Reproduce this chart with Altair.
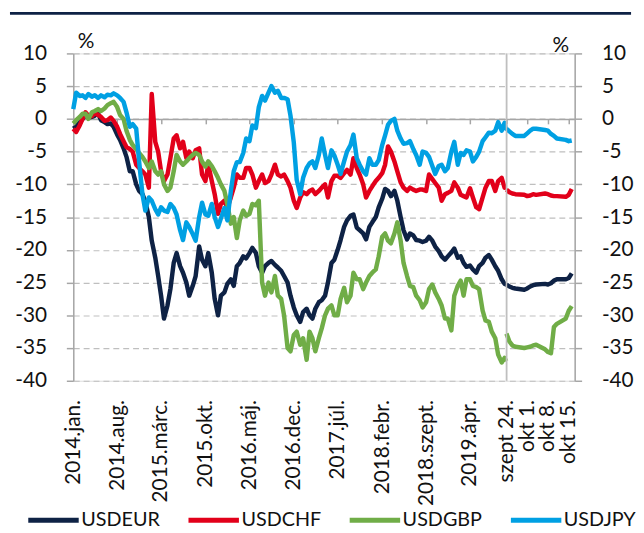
import altair as alt
import pandas as pd

# ---------------- data ----------------
series_names = ["USDEUR", "USDCHF", "USDGBP", "USDJPY"]
series_colors = ["#0E2245", "#E2001A", "#70AD47", "#00A0E3"]

# long period: semi-monthly readings (1st and 15th), Jan 2014 - mid Sep 2019, plus 23 Sep 2019
left_dates = list(pd.date_range("2014-01-01", "2019-09-15", freq="SMS")) + [pd.Timestamp("2019-09-23")]

eur_left = [-1.5, -1.2, -0.5, 0.0, 0.6, 0.2, 0.3, 0.5, 0.8, -0.2,
            -0.5, -0.8, -0.7, -1.2, -2.4, -3.2, -4.5, -5.8, -8.0, -8.0,
            -10.0, -11.0, -11.5, -12.6, -15.0, -18.6, -21.2, -24.0, -27.0, -30.5,
            -28.5, -26.0, -22.0, -20.5, -22.5, -23.5, -25.0, -27.0, -25.5, -24.0,
            -19.5, -21.5, -22.5, -20.5, -23.5, -27.5, -30.0, -27.0, -26.5, -25.2,
            -24.5, -25.5, -22.5, -22.0, -21.0, -21.3, -20.5, -19.7, -20.5, -22.5,
            -23.5, -22.5, -22.0, -21.7, -22.3, -22.7, -23.2, -24.0, -25.0, -27.0,
            -28.8, -30.0, -31.0, -29.5, -29.0, -30.0, -30.5, -29.0, -28.0, -27.7,
            -27.0, -25.0, -22.0, -21.5, -20.0, -18.5, -16.5, -15.5, -14.8, -14.6,
            -16.6, -17.0, -17.5, -18.4, -16.5, -15.8, -15.0, -13.5, -12.2, -10.7,
            -11.0, -11.8, -11.0, -12.5, -15.0, -17.0, -18.4, -17.5, -17.8, -18.5,
            -18.6, -18.8, -18.6, -18.0, -18.6, -19.5, -20.2, -21.0, -21.5, -21.0,
            -20.4, -19.8, -21.2, -21.0, -22.0, -22.6, -22.4, -23.0, -23.5, -22.5,
            -22.0, -21.2, -20.8, -21.5, -22.5, -23.2, -24.5, -25.2,
            -25.3]
chf_left = [-1.5, -2.0, -1.0, 0.0, 1.0, 0.5, 0.4, 0.9, 0.6, 0.3,
            -0.3, -0.2, 0.2, -0.3, -1.2, -2.3, -3.4, -4.3, -4.6, -5.0,
            -7.0, -7.5, -8.0, -8.5, -10.5, 3.8, -3.5, -5.0, -8.0, -9.5,
            -8.5, -6.0, -3.0, -2.5, -4.5, -3.5, -6.0, -5.0, -6.0, -4.8,
            -4.5, -8.5, -9.5, -7.0, -9.5, -11.5, -14.5, -13.0, -12.5, -13.6,
            -12.0, -10.5, -8.5, -9.0, -9.0, -7.5, -7.5, -8.5, -10.5, -9.5,
            -8.5, -9.8, -9.5, -8.5, -7.0, -8.5, -8.8, -8.5, -9.5, -10.5,
            -12.5, -13.6, -12.0, -11.2, -11.5, -11.0, -10.8, -11.5, -11.0, -10.5,
            -10.0, -12.0, -9.5, -8.7, -8.7, -9.0, -8.3, -7.8, -8.5, -6.0,
            -7.5, -8.5, -10.0, -12.0, -11.0, -10.3, -9.5, -9.0, -8.3, -7.0,
            -4.2, -5.0, -6.5, -8.0, -9.7, -10.5, -11.0, -10.5, -10.8, -11.0,
            -10.8, -10.8, -11.0, -8.5, -9.2, -9.8, -10.5, -12.5, -11.5, -11.3,
            -11.0, -9.7, -10.5, -11.6, -11.8, -12.0, -10.6, -12.0, -13.5, -13.8,
            -12.0, -10.5, -9.5, -9.5, -11.0, -9.5, -9.0, -10.5,
            -10.6]
gbp_left = [-0.7, -0.2, 0.3, 0.8, 0.8, 0.0, 1.0, 1.2, 1.5, 1.2,
            1.6, 2.1, 2.4, 2.6, 1.8, 0.6, 0.0, -1.8, -3.2, -4.0,
            -4.6, -5.2, -5.8, -6.5, -7.5, -6.5, -8.0, -8.5, -8.0, -10.0,
            -11.0, -10.5, -8.0, -5.5, -6.5, -7.0, -6.5, -6.0, -5.5, -5.2,
            -5.5, -6.5, -7.3, -6.5, -7.2, -8.0, -9.0, -10.0, -11.0, -13.0,
            -16.0, -15.0, -18.2, -15.5, -14.0, -14.8, -14.5, -13.0, -13.2, -12.5,
            -25.0, -27.0, -25.0, -26.5, -24.0, -27.0, -27.5, -30.0, -35.0, -35.5,
            -33.0, -32.5, -34.5, -33.5, -36.8, -32.5, -33.5, -35.5, -33.5, -32.0,
            -30.0, -29.0, -28.5, -30.0, -30.0, -27.5, -25.8, -28.0, -27.0, -23.5,
            -24.5, -24.5, -26.0, -25.0, -24.0, -23.5, -23.0, -21.0, -18.0, -17.5,
            -18.6, -19.0, -17.5, -15.8, -18.6, -22.0, -24.0, -25.5, -25.7, -27.0,
            -27.7, -28.8, -28.0, -26.0, -25.3, -26.5, -27.5, -28.5, -30.5, -30.5,
            -32.3, -27.0, -25.5, -24.7, -27.0, -24.5, -24.5, -25.5, -25.7, -26.0,
            -29.3, -30.8, -31.0, -32.5, -33.5, -36.0, -37.2, -36.5,
            -37.0]
jpy_left = [1.5, 4.0, 3.5, 3.6, 3.2, 3.8, 3.4, 3.6, 3.2, 3.6,
            3.3, 3.7, 3.6, 3.9, 3.6, 3.2, 2.6, 1.0, -1.2, -0.8,
            -1.5, -6.5, -11.5, -14.0, -12.0, -12.5, -13.8, -14.6, -13.5, -14.0,
            -14.2, -13.0, -13.6, -14.6, -17.0, -18.5, -15.8, -16.5, -17.6, -18.6,
            -15.0, -12.8, -14.6, -14.8, -13.0, -15.0, -16.5, -15.2, -13.6, -15.5,
            -11.0, -8.0, -6.6, -6.6, -5.2, -3.0, -3.4, -1.0, -1.4, 1.8,
            3.5, 2.8, 4.0, 5.0, 4.0, 4.3, 3.2, 3.2, 3.0, 0.5,
            -3.6, -9.3, -11.5, -9.0, -7.5, -6.8, -6.5, -7.5, -5.5, -3.0,
            -5.5, -7.5, -4.8, -5.6, -7.0, -8.4, -6.5, -5.0, -4.0, -2.4,
            -6.0, -7.0, -8.0, -8.5, -6.0, -7.0, -7.0, -6.3, -4.0, -2.5,
            -0.9, -0.3, 0.0, -1.8, -3.0, -3.8, -3.7, -3.4, -4.6, -5.5,
            -7.0, -5.0, -5.2, -5.8, -7.2, -8.4, -7.2, -7.0, -8.0, -7.5,
            -5.0, -3.5, -7.0, -5.2, -5.5, -4.8, -5.0, -6.5, -5.8, -5.0,
            -3.4, -2.8, -2.1, -2.2, -1.8, -0.5, -1.8, -0.6,
            -1.7]

# last weeks: daily readings, 24 Sep - 16 Oct 2019
right_dates = list(pd.bdate_range("2019-09-24", "2019-10-16"))
eur_right = [-25.3, -25.6, -25.8, -25.9, -26.1, -25.9, -25.6, -25.4, -25.3,
             -25.2, -25.3, -25.1, -24.7, -24.5, -24.5, -24.3, -23.6]
chf_right = [-10.8, -11.2, -11.4, -11.5, -11.6, -11.8, -11.7, -11.5, -11.6,
             -11.4, -11.5, -11.7, -11.8, -11.8, -11.9, -11.6, -10.7]
gbp_right = [-32.8, -34.0, -34.6, -34.8, -35.0, -34.9, -34.8, -34.6, -34.5,
             -35.2, -35.6, -35.8, -31.8, -31.3, -30.5, -29.3, -28.6]
jpy_right = [-1.5, -1.9, -2.3, -2.6, -2.6, -2.2, -1.8, -1.5, -1.5,
             -1.7, -1.8, -2.3, -2.6, -3.0, -3.2, -3.4, -3.3]

y_ticks = [-40, -35, -30, -25, -20, -15, -10, -5, 0, 5, 10]
hu_months = ["jan", "febr", "márc", "ápr", "máj", "jún", "júl", "aug", "szept", "okt", "nov", "dec"]
left_tick_dates = [(2014, 1, 1), (2014, 8, 1), (2015, 3, 1), (2015, 10, 1), (2016, 5, 1),
                   (2016, 12, 1), (2017, 7, 1), (2018, 2, 1), (2018, 9, 1), (2019, 4, 1)]
right_tick_dates = [(2019, 9, 24), (2019, 10, 1), (2019, 10, 8), (2019, 10, 15)]


def build(dates, cols):
    rows = []
    for name, vals in zip(series_names, cols):
        assert len(vals) == len(dates), (name, len(vals), len(dates))
        for d, v in zip(dates, vals):
            rows.append({"date": d, "series": name, "value": v})
    return pd.DataFrame(rows)


left_df = build(left_dates, [eur_left, chf_left, gbp_left, jpy_left])
right_df = build(right_dates, [eur_right, chf_right, gbp_right, jpy_right])

# ---------------- style ----------------
FONT = "Lato"
FS = 21
TXT = "#111111"
AX = "#A6A6A6"
GRID = "#BFBFBF"
NAVY = "#0E2245"
PLOT_H = 331
LW = 4.5
ZERO_FROM_BOTTOM = PLOT_H * 40 / 50  # y=0 line distance from the bottom edge

months_js = "[" + ",".join("'%s'" % m for m in hu_months) + "]"
left_label_expr = "year(datum.value) + '.' + %s[month(datum.value)] + '.'" % months_js
right_label_expr = "%s[month(datum.value)] + ' ' + date(datum.value) + '.'" % months_js


def dt(t):
    return alt.DateTime(year=t[0], month=t[1], date=t[2])


def x_axis(ticks, expr):
    return alt.Axis(values=[dt(t) for t in ticks], labelExpr=expr, labelAngle=270,
                    labelAlign="right", labelBaseline="middle", offset=-ZERO_FROM_BOTTOM,
                    tickSize=5, labelPadding=ZERO_FROM_BOTTOM + 14, domainColor=AX, domainWidth=1.5,
                    tickColor=AX, tickWidth=1.5, grid=False, title=None, labelOverlap=False,
                    labelFlush=False, labelBound=False, labelFont=FONT, labelFontSize=FS,
                    labelColor=TXT)


def y_axis(orient):
    left = orient == "left"
    return alt.Axis(orient=orient, values=y_ticks, labelExpr="'' + datum.value", tickSize=7,
                    labelPadding=20, domainColor=AX, domainWidth=1.5, tickColor=AX, tickWidth=1.5,
                    grid=True, gridColor=GRID, gridDash=[6, 4], gridWidth=1.2,
                    title="%", titleAngle=0, titleAlign="left" if left else "right",
                    titleBaseline="alphabetic", titleX=4 if left else -6, titleY=-6 if left else -2,
                    titleFont=FONT, titleFontSize=FS, titleFontWeight="normal", titleColor=TXT,
                    labelFont=FONT, labelFontSize=FS, labelColor=TXT, minExtent=57, maxExtent=57)


color_enc = alt.Color("series:N", scale=alt.Scale(domain=series_names, range=series_colors),
                      legend=alt.Legend(orient="none", legendX=-48, legendY=444, direction="horizontal",
                                        title=None, symbolType="stroke", symbolSize=2601,
                                        symbolStrokeWidth=5, labelFont=FONT, labelFontSize=20,
                                        labelColor=TXT, columnPadding=18, labelOffset=0, padding=0))
y_scale = alt.Scale(domain=[-40, 10], nice=False, zero=False)

left_lines = alt.Chart(left_df).mark_line(strokeWidth=LW, strokeJoin="round").encode(
    x=alt.X("date:T", scale=alt.Scale(domain=[dt((2014, 1, 1)), dt((2019, 9, 24))]),
            axis=x_axis(left_tick_dates, left_label_expr)),
    y=alt.Y("value:Q", scale=y_scale, axis=y_axis("left")),
    color=color_enc,
)
top_rule = alt.Chart(pd.DataFrame({"k": [0]})).mark_rule(color=NAVY, strokeWidth=3).encode(
    x=alt.value(-64), x2=alt.value(564), y=alt.value(-40.5))
left = alt.layer(left_lines, top_rule).properties(width=438, height=PLOT_H)

# thin grey separator at the left edge of the zoomed-in period
sep = alt.Chart(pd.DataFrame({"k": [0]})).mark_rule(color=GRID, strokeWidth=1.5).encode(
    x=alt.value(0), y=alt.value(0), y2=alt.value(PLOT_H))
right_lines = alt.Chart(right_df).mark_line(strokeWidth=LW, strokeJoin="round").encode(
    x=alt.X("date:T", scale=alt.Scale(domain=[dt((2019, 9, 24)), dt((2019, 10, 17))]),
            axis=x_axis(right_tick_dates, right_label_expr)),
    y=alt.Y("value:Q", scale=y_scale, axis=y_axis("right")),
    color=color_enc,
)
right = alt.layer(right_lines, sep).properties(width=69, height=PLOT_H)

chart = alt.hconcat(left, right, spacing=0, bounds="flush", padding=0).resolve_scale(
    x="independent", y="independent", color="shared"
).configure_view(stroke=None).configure(font=FONT).configure_axis(labelOverlap=False)

chart.save("out.html", embed_options={"renderer": "svg", "actions": False})
